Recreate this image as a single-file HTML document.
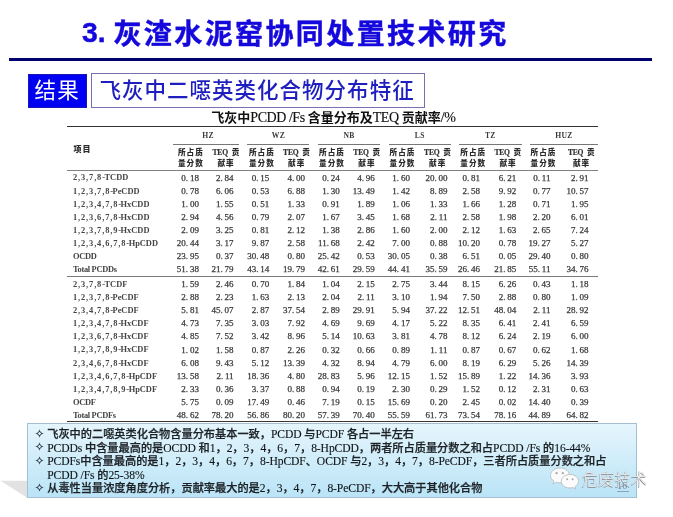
<!DOCTYPE html>
<html><head><meta charset="utf-8"><title>slide</title>
<style>
*{margin:0;padding:0;box-sizing:border-box}
html,body{width:673px;height:517px;overflow:hidden;background:#fff}
body{position:relative;font-family:"Liberation Sans","Noto Sans CJK SC",sans-serif}
.a{position:absolute;white-space:nowrap}
.t{font-family:"Liberation Serif","Noto Sans CJK SC",serif;color:#383838;-webkit-text-stroke:0.25px #383838}
.n{font-size:9px;line-height:10px;text-align:right;width:40px}
.lab{font-size:8.4px;line-height:10px;left:73px;font-weight:700;-webkit-text-stroke:0;color:#444}
.lab .dg{letter-spacing:0.88px}
.lab .hy{letter-spacing:-0.5px}
.hd{font-family:"Liberation Serif","Noto Sans CJK SC",serif;font-size:7.6px;line-height:10px;color:#333;-webkit-text-stroke:0.2px #333;text-align:center;width:40px}
.hc{font-family:"Noto Sans CJK SC",sans-serif;font-weight:700;letter-spacing:1px;-webkit-text-stroke:0}
.ln{position:absolute;background:#555}
.hb{font-weight:900;color:#2a2a2a}
.hd b{font-weight:700;letter-spacing:-0.2px}
.bx{font-family:"Liberation Serif","Noto Sans CJK SC",serif;font-size:11.6px;letter-spacing:-0.1px;line-height:16px;color:#101315;-webkit-text-stroke:0.12px #101315}
.bx .c{font-family:"Noto Sans CJK SC",sans-serif;font-weight:500;font-size:11.2px;letter-spacing:0;-webkit-text-stroke:0.25px #1d2226;color:#1d2226}
.st{display:block}
</style></head><body>

<div class="a" id="title" style="left:82px;top:14px;font-size:28px;line-height:40px;font-weight:700;color:#1508dc;-webkit-text-stroke:0.45px #1508dc;font-family:'Liberation Sans','Noto Sans CJK SC',sans-serif"><span style="font-size:28.3px;position:relative;top:-2px">3. </span><span style="letter-spacing:2.4px;position:relative;top:0px">灰渣水泥窑协同处置技术研究</span></div>
<div class="a" style="left:8.6px;top:57.5px;width:643.4px;height:3.5px;background:#00006e"></div>
<div class="a" style="left:27.5px;top:73.6px;width:59.5px;height:34.2px;background:#0000f3;border:1px solid #1818b8"></div>
<div class="a" id="jg" style="left:34.6px;top:73px;font-size:21.5px;letter-spacing:1.1px;line-height:32px;color:#fff;font-family:'Noto Sans CJK SC',sans-serif">结果</div>
<div class="a" style="left:91.3px;top:73.2px;width:333.7px;height:34.6px;border:1.2px solid #7570ae"></div>
<div class="a" id="sub" style="left:99.4px;top:73px;font-size:21.5px;letter-spacing:1.02px;font-weight:500;line-height:32px;color:#1f1fc0;font-family:'Noto Sans CJK SC',sans-serif">飞灰中二噁英类化合物分布特征</div>
<div class="a t" id="tt" style="left:211.3px;top:107.6px;font-size:14px;line-height:17px;color:#111;-webkit-text-stroke:0.15px #111;letter-spacing:-0.45px"><span class="hc" style="letter-spacing:0;font-size:13px">飞灰中</span>PCDD /Fs <span class="hc" style="letter-spacing:0;font-size:13px">含量分布及</span>TEQ <span class="hc" style="letter-spacing:0;font-size:13px">贡献率</span>/%</div>
<div class="ln" style="left:67px;top:125.6px;width:531.2px;height:1.3px;background:#333"></div>
<div class="ln" style="left:173.0px;top:143.6px;width:66.1px;height:1px;background:#777"></div>
<div class="ln" style="left:247.4px;top:143.6px;width:62.1px;height:1px;background:#777"></div>
<div class="ln" style="left:317.8px;top:143.6px;width:62.4px;height:1px;background:#777"></div>
<div class="ln" style="left:388.7px;top:143.6px;width:62.1px;height:1px;background:#777"></div>
<div class="ln" style="left:459.0px;top:143.6px;width:62.6px;height:1px;background:#777"></div>
<div class="ln" style="left:529.6px;top:143.6px;width:68.6px;height:1px;background:#777"></div>
<div class="ln" style="left:67px;top:169.9px;width:531.2px;height:1.4px;background:#808080"></div>
<div class="ln" style="left:67px;top:275.9px;width:531.2px;height:1.3px;background:#7a7a7a"></div>
<div class="ln" style="left:67px;top:420.9px;width:531.2px;height:1.45px;background:#383838"></div>
<div class="a hc" style="left:73.6px;top:143px;font-size:8px;line-height:12px;color:#2a2a2a;letter-spacing:0.9px;font-weight:900">项目</div>
<div class="a hd" style="left:188.1px;top:130.5px;font-weight:700;letter-spacing:0.3px;-webkit-text-stroke:0;color:#3a3a3a">HZ</div>
<div class="a hd" style="left:258.4px;top:130.5px;font-weight:700;letter-spacing:0.3px;-webkit-text-stroke:0;color:#3a3a3a">WZ</div>
<div class="a hd" style="left:329.0px;top:130.5px;font-weight:700;letter-spacing:0.3px;-webkit-text-stroke:0;color:#3a3a3a">NB</div>
<div class="a hd" style="left:399.8px;top:130.5px;font-weight:700;letter-spacing:0.3px;-webkit-text-stroke:0;color:#3a3a3a">LS</div>
<div class="a hd" style="left:470.3px;top:130.5px;font-weight:700;letter-spacing:0.3px;-webkit-text-stroke:0;color:#3a3a3a">TZ</div>
<div class="a hd" style="left:543.9px;top:130.5px;font-weight:700;letter-spacing:0.3px;-webkit-text-stroke:0;color:#3a3a3a">HUZ</div>
<div class="a hd hc hb" style="left:170.9px;top:146.7px">所占质</div>
<div class="a hd hc hb" style="left:170.9px;top:157.6px">量分数</div>
<div class="a hd hc hb" style="left:241.9px;top:146.7px">所占质</div>
<div class="a hd hc hb" style="left:241.9px;top:157.6px">量分数</div>
<div class="a hd hc hb" style="left:312.0px;top:146.7px">所占质</div>
<div class="a hd hc hb" style="left:312.0px;top:157.6px">量分数</div>
<div class="a hd hc hb" style="left:382.5px;top:146.7px">所占质</div>
<div class="a hd hc hb" style="left:382.5px;top:157.6px">量分数</div>
<div class="a hd hc hb" style="left:453.2px;top:146.7px">所占质</div>
<div class="a hd hc hb" style="left:453.2px;top:157.6px">量分数</div>
<div class="a hd hc hb" style="left:523.5px;top:146.7px">所占质</div>
<div class="a hd hc hb" style="left:523.5px;top:157.6px">量分数</div>
<div class="a hd" style="left:205.9px;top:146.7px"><b>TEQ</b>&#8194;<span class="hc hb" style="letter-spacing:0">贡</span></div>
<div class="a hd hc hb" style="left:206.1px;top:157.6px">献率</div>
<div class="a hd" style="left:276.5px;top:146.7px"><b>TEQ</b>&#8194;<span class="hc hb" style="letter-spacing:0">贡</span></div>
<div class="a hd hc hb" style="left:276.7px;top:157.6px">献率</div>
<div class="a hd" style="left:346.7px;top:146.7px"><b>TEQ</b>&#8194;<span class="hc hb" style="letter-spacing:0">贡</span></div>
<div class="a hd hc hb" style="left:346.9px;top:157.6px">献率</div>
<div class="a hd" style="left:417.5px;top:146.7px"><b>TEQ</b>&#8194;<span class="hc hb" style="letter-spacing:0">贡</span></div>
<div class="a hd hc hb" style="left:417.7px;top:157.6px">献率</div>
<div class="a hd" style="left:487.8px;top:146.7px"><b>TEQ</b>&#8194;<span class="hc hb" style="letter-spacing:0">贡</span></div>
<div class="a hd hc hb" style="left:488.0px;top:157.6px">献率</div>
<div class="a hd" style="left:561.3px;top:146.7px"><b>TEQ</b>&#8194;<span class="hc hb" style="letter-spacing:0">贡</span></div>
<div class="a hd hc hb" style="left:561.5px;top:157.6px">献率</div>
<div class="a t lab" style="top:173.40px"><span class="dg">2,3,7,8</span><span class="hy">-</span>TCDD</div>
<div class="a t n" style="left:158.9px;top:172.50px">0.&#8201;18</div>
<div class="a t n" style="left:193.6px;top:172.50px">2.&#8201;84</div>
<div class="a t n" style="left:229.3px;top:172.50px">0.&#8201;15</div>
<div class="a t n" style="left:265.0px;top:172.50px">4.&#8201;00</div>
<div class="a t n" style="left:299.7px;top:172.50px">0.&#8201;24</div>
<div class="a t n" style="left:334.7px;top:172.50px">4.&#8201;96</div>
<div class="a t n" style="left:369.9px;top:172.50px">1.&#8201;60</div>
<div class="a t n" style="left:407.5px;top:172.50px">20.&#8201;00</div>
<div class="a t n" style="left:440.0px;top:172.50px">0.&#8201;81</div>
<div class="a t n" style="left:476.2px;top:172.50px">6.&#8201;21</div>
<div class="a t n" style="left:510.5px;top:172.50px">0.&#8201;11</div>
<div class="a t n" style="left:548.6px;top:172.50px">2.&#8201;91</div>
<div class="a t lab" style="top:186.53px"><span class="dg">1,2,3,7,8</span><span class="hy">-</span>PeCDD</div>
<div class="a t n" style="left:158.9px;top:185.63px">0.&#8201;78</div>
<div class="a t n" style="left:193.6px;top:185.63px">6.&#8201;06</div>
<div class="a t n" style="left:229.3px;top:185.63px">0.&#8201;53</div>
<div class="a t n" style="left:265.0px;top:185.63px">6.&#8201;88</div>
<div class="a t n" style="left:299.7px;top:185.63px">1.&#8201;30</div>
<div class="a t n" style="left:334.7px;top:185.63px">13.&#8201;49</div>
<div class="a t n" style="left:369.9px;top:185.63px">1.&#8201;42</div>
<div class="a t n" style="left:407.5px;top:185.63px">8.&#8201;89</div>
<div class="a t n" style="left:440.0px;top:185.63px">2.&#8201;58</div>
<div class="a t n" style="left:476.2px;top:185.63px">9.&#8201;92</div>
<div class="a t n" style="left:510.5px;top:185.63px">0.&#8201;77</div>
<div class="a t n" style="left:548.6px;top:185.63px">10.&#8201;57</div>
<div class="a t lab" style="top:199.66px"><span class="dg">1,2,3,4,7,8</span><span class="hy">-</span>HxCDD</div>
<div class="a t n" style="left:158.9px;top:198.76px">1.&#8201;00</div>
<div class="a t n" style="left:193.6px;top:198.76px">1.&#8201;55</div>
<div class="a t n" style="left:229.3px;top:198.76px">0.&#8201;51</div>
<div class="a t n" style="left:265.0px;top:198.76px">1.&#8201;33</div>
<div class="a t n" style="left:299.7px;top:198.76px">0.&#8201;91</div>
<div class="a t n" style="left:334.7px;top:198.76px">1.&#8201;89</div>
<div class="a t n" style="left:369.9px;top:198.76px">1.&#8201;06</div>
<div class="a t n" style="left:407.5px;top:198.76px">1.&#8201;33</div>
<div class="a t n" style="left:440.0px;top:198.76px">1.&#8201;66</div>
<div class="a t n" style="left:476.2px;top:198.76px">1.&#8201;28</div>
<div class="a t n" style="left:510.5px;top:198.76px">0.&#8201;71</div>
<div class="a t n" style="left:548.6px;top:198.76px">1.&#8201;95</div>
<div class="a t lab" style="top:212.79px"><span class="dg">1,2,3,6,7,8</span><span class="hy">-</span>HxCDD</div>
<div class="a t n" style="left:158.9px;top:211.89px">2.&#8201;94</div>
<div class="a t n" style="left:193.6px;top:211.89px">4.&#8201;56</div>
<div class="a t n" style="left:229.3px;top:211.89px">0.&#8201;79</div>
<div class="a t n" style="left:265.0px;top:211.89px">2.&#8201;07</div>
<div class="a t n" style="left:299.7px;top:211.89px">1.&#8201;67</div>
<div class="a t n" style="left:334.7px;top:211.89px">3.&#8201;45</div>
<div class="a t n" style="left:369.9px;top:211.89px">1.&#8201;68</div>
<div class="a t n" style="left:407.5px;top:211.89px">2.&#8201;11</div>
<div class="a t n" style="left:440.0px;top:211.89px">2.&#8201;58</div>
<div class="a t n" style="left:476.2px;top:211.89px">1.&#8201;98</div>
<div class="a t n" style="left:510.5px;top:211.89px">2.&#8201;20</div>
<div class="a t n" style="left:548.6px;top:211.89px">6.&#8201;01</div>
<div class="a t lab" style="top:225.92px"><span class="dg">1,2,3,7,8,9</span><span class="hy">-</span>HxCDD</div>
<div class="a t n" style="left:158.9px;top:225.02px">2.&#8201;09</div>
<div class="a t n" style="left:193.6px;top:225.02px">3.&#8201;25</div>
<div class="a t n" style="left:229.3px;top:225.02px">0.&#8201;81</div>
<div class="a t n" style="left:265.0px;top:225.02px">2.&#8201;12</div>
<div class="a t n" style="left:299.7px;top:225.02px">1.&#8201;38</div>
<div class="a t n" style="left:334.7px;top:225.02px">2.&#8201;86</div>
<div class="a t n" style="left:369.9px;top:225.02px">1.&#8201;60</div>
<div class="a t n" style="left:407.5px;top:225.02px">2.&#8201;00</div>
<div class="a t n" style="left:440.0px;top:225.02px">2.&#8201;12</div>
<div class="a t n" style="left:476.2px;top:225.02px">1.&#8201;63</div>
<div class="a t n" style="left:510.5px;top:225.02px">2.&#8201;65</div>
<div class="a t n" style="left:548.6px;top:225.02px">7.&#8201;24</div>
<div class="a t lab" style="top:239.05px"><span class="dg">1,2,3,4,6,7,8</span><span class="hy">-</span>HpCDD</div>
<div class="a t n" style="left:158.9px;top:238.15px">20.&#8201;44</div>
<div class="a t n" style="left:193.6px;top:238.15px">3.&#8201;17</div>
<div class="a t n" style="left:229.3px;top:238.15px">9.&#8201;87</div>
<div class="a t n" style="left:265.0px;top:238.15px">2.&#8201;58</div>
<div class="a t n" style="left:299.7px;top:238.15px">11.&#8201;68</div>
<div class="a t n" style="left:334.7px;top:238.15px">2.&#8201;42</div>
<div class="a t n" style="left:369.9px;top:238.15px">7.&#8201;00</div>
<div class="a t n" style="left:407.5px;top:238.15px">0.&#8201;88</div>
<div class="a t n" style="left:440.0px;top:238.15px">10.&#8201;20</div>
<div class="a t n" style="left:476.2px;top:238.15px">0.&#8201;78</div>
<div class="a t n" style="left:510.5px;top:238.15px">19.&#8201;27</div>
<div class="a t n" style="left:548.6px;top:238.15px">5.&#8201;27</div>
<div class="a t lab" style="top:252.18px"><span style="letter-spacing:-0.3px">OCDD</span></div>
<div class="a t n" style="left:158.9px;top:251.28px">23.&#8201;95</div>
<div class="a t n" style="left:193.6px;top:251.28px">0.&#8201;37</div>
<div class="a t n" style="left:229.3px;top:251.28px">30.&#8201;48</div>
<div class="a t n" style="left:265.0px;top:251.28px">0.&#8201;80</div>
<div class="a t n" style="left:299.7px;top:251.28px">25.&#8201;42</div>
<div class="a t n" style="left:334.7px;top:251.28px">0.&#8201;53</div>
<div class="a t n" style="left:369.9px;top:251.28px">30.&#8201;05</div>
<div class="a t n" style="left:407.5px;top:251.28px">0.&#8201;38</div>
<div class="a t n" style="left:440.0px;top:251.28px">6.&#8201;51</div>
<div class="a t n" style="left:476.2px;top:251.28px">0.&#8201;05</div>
<div class="a t n" style="left:510.5px;top:251.28px">29.&#8201;40</div>
<div class="a t n" style="left:548.6px;top:251.28px">0.&#8201;80</div>
<div class="a t lab" style="top:265.31px"><span style="letter-spacing:-0.3px">Total PCDDs</span></div>
<div class="a t n" style="left:158.9px;top:264.41px">51.&#8201;38</div>
<div class="a t n" style="left:193.6px;top:264.41px">21.&#8201;79</div>
<div class="a t n" style="left:229.3px;top:264.41px">43.&#8201;14</div>
<div class="a t n" style="left:265.0px;top:264.41px">19.&#8201;79</div>
<div class="a t n" style="left:299.7px;top:264.41px">42.&#8201;61</div>
<div class="a t n" style="left:334.7px;top:264.41px">29.&#8201;59</div>
<div class="a t n" style="left:369.9px;top:264.41px">44.&#8201;41</div>
<div class="a t n" style="left:407.5px;top:264.41px">35.&#8201;59</div>
<div class="a t n" style="left:440.0px;top:264.41px">26.&#8201;46</div>
<div class="a t n" style="left:476.2px;top:264.41px">21.&#8201;85</div>
<div class="a t n" style="left:510.5px;top:264.41px">55.&#8201;11</div>
<div class="a t n" style="left:548.6px;top:264.41px">34.&#8201;76</div>
<div class="a t lab" style="top:279.80px"><span class="dg">2,3,7,8</span><span class="hy">-</span>TCDF</div>
<div class="a t n" style="left:158.9px;top:278.90px">1.&#8201;59</div>
<div class="a t n" style="left:193.6px;top:278.90px">2.&#8201;46</div>
<div class="a t n" style="left:229.3px;top:278.90px">0.&#8201;70</div>
<div class="a t n" style="left:265.0px;top:278.90px">1.&#8201;84</div>
<div class="a t n" style="left:299.7px;top:278.90px">1.&#8201;04</div>
<div class="a t n" style="left:334.7px;top:278.90px">2.&#8201;15</div>
<div class="a t n" style="left:369.9px;top:278.90px">2.&#8201;75</div>
<div class="a t n" style="left:407.5px;top:278.90px">3.&#8201;44</div>
<div class="a t n" style="left:440.0px;top:278.90px">8.&#8201;15</div>
<div class="a t n" style="left:476.2px;top:278.90px">6.&#8201;26</div>
<div class="a t n" style="left:510.5px;top:278.90px">0.&#8201;43</div>
<div class="a t n" style="left:548.6px;top:278.90px">1.&#8201;18</div>
<div class="a t lab" style="top:292.93px"><span class="dg">1,2,3,7,8</span><span class="hy">-</span>PeCDF</div>
<div class="a t n" style="left:158.9px;top:292.03px">2.&#8201;88</div>
<div class="a t n" style="left:193.6px;top:292.03px">2.&#8201;23</div>
<div class="a t n" style="left:229.3px;top:292.03px">1.&#8201;63</div>
<div class="a t n" style="left:265.0px;top:292.03px">2.&#8201;13</div>
<div class="a t n" style="left:299.7px;top:292.03px">2.&#8201;04</div>
<div class="a t n" style="left:334.7px;top:292.03px">2.&#8201;11</div>
<div class="a t n" style="left:369.9px;top:292.03px">3.&#8201;10</div>
<div class="a t n" style="left:407.5px;top:292.03px">1.&#8201;94</div>
<div class="a t n" style="left:440.0px;top:292.03px">7.&#8201;50</div>
<div class="a t n" style="left:476.2px;top:292.03px">2.&#8201;88</div>
<div class="a t n" style="left:510.5px;top:292.03px">0.&#8201;80</div>
<div class="a t n" style="left:548.6px;top:292.03px">1.&#8201;09</div>
<div class="a t lab" style="top:306.06px"><span class="dg">2,3,4,7,8</span><span class="hy">-</span>PeCDF</div>
<div class="a t n" style="left:158.9px;top:305.16px">5.&#8201;81</div>
<div class="a t n" style="left:193.6px;top:305.16px">45.&#8201;07</div>
<div class="a t n" style="left:229.3px;top:305.16px">2.&#8201;87</div>
<div class="a t n" style="left:265.0px;top:305.16px">37.&#8201;54</div>
<div class="a t n" style="left:299.7px;top:305.16px">2.&#8201;89</div>
<div class="a t n" style="left:334.7px;top:305.16px">29.&#8201;91</div>
<div class="a t n" style="left:369.9px;top:305.16px">5.&#8201;94</div>
<div class="a t n" style="left:407.5px;top:305.16px">37.&#8201;22</div>
<div class="a t n" style="left:440.0px;top:305.16px">12.&#8201;51</div>
<div class="a t n" style="left:476.2px;top:305.16px">48.&#8201;04</div>
<div class="a t n" style="left:510.5px;top:305.16px">2.&#8201;11</div>
<div class="a t n" style="left:548.6px;top:305.16px">28.&#8201;92</div>
<div class="a t lab" style="top:319.19px"><span class="dg">1,2,3,4,7,8</span><span class="hy">-</span>HxCDF</div>
<div class="a t n" style="left:158.9px;top:318.29px">4.&#8201;73</div>
<div class="a t n" style="left:193.6px;top:318.29px">7.&#8201;35</div>
<div class="a t n" style="left:229.3px;top:318.29px">3.&#8201;03</div>
<div class="a t n" style="left:265.0px;top:318.29px">7.&#8201;92</div>
<div class="a t n" style="left:299.7px;top:318.29px">4.&#8201;69</div>
<div class="a t n" style="left:334.7px;top:318.29px">9.&#8201;69</div>
<div class="a t n" style="left:369.9px;top:318.29px">4.&#8201;17</div>
<div class="a t n" style="left:407.5px;top:318.29px">5.&#8201;22</div>
<div class="a t n" style="left:440.0px;top:318.29px">8.&#8201;35</div>
<div class="a t n" style="left:476.2px;top:318.29px">6.&#8201;41</div>
<div class="a t n" style="left:510.5px;top:318.29px">2.&#8201;41</div>
<div class="a t n" style="left:548.6px;top:318.29px">6.&#8201;59</div>
<div class="a t lab" style="top:332.32px"><span class="dg">1,2,3,6,7,8</span><span class="hy">-</span>HxCDF</div>
<div class="a t n" style="left:158.9px;top:331.42px">4.&#8201;85</div>
<div class="a t n" style="left:193.6px;top:331.42px">7.&#8201;52</div>
<div class="a t n" style="left:229.3px;top:331.42px">3.&#8201;42</div>
<div class="a t n" style="left:265.0px;top:331.42px">8.&#8201;96</div>
<div class="a t n" style="left:299.7px;top:331.42px">5.&#8201;14</div>
<div class="a t n" style="left:334.7px;top:331.42px">10.&#8201;63</div>
<div class="a t n" style="left:369.9px;top:331.42px">3.&#8201;81</div>
<div class="a t n" style="left:407.5px;top:331.42px">4.&#8201;78</div>
<div class="a t n" style="left:440.0px;top:331.42px">8.&#8201;12</div>
<div class="a t n" style="left:476.2px;top:331.42px">6.&#8201;24</div>
<div class="a t n" style="left:510.5px;top:331.42px">2.&#8201;19</div>
<div class="a t n" style="left:548.6px;top:331.42px">6.&#8201;00</div>
<div class="a t lab" style="top:345.45px"><span class="dg">1,2,3,7,8,9</span><span class="hy">-</span>HxCDF</div>
<div class="a t n" style="left:158.9px;top:344.55px">1.&#8201;02</div>
<div class="a t n" style="left:193.6px;top:344.55px">1.&#8201;58</div>
<div class="a t n" style="left:229.3px;top:344.55px">0.&#8201;87</div>
<div class="a t n" style="left:265.0px;top:344.55px">2.&#8201;26</div>
<div class="a t n" style="left:299.7px;top:344.55px">0.&#8201;32</div>
<div class="a t n" style="left:334.7px;top:344.55px">0.&#8201;66</div>
<div class="a t n" style="left:369.9px;top:344.55px">0.&#8201;89</div>
<div class="a t n" style="left:407.5px;top:344.55px">1.&#8201;11</div>
<div class="a t n" style="left:440.0px;top:344.55px">0.&#8201;87</div>
<div class="a t n" style="left:476.2px;top:344.55px">0.&#8201;67</div>
<div class="a t n" style="left:510.5px;top:344.55px">0.&#8201;62</div>
<div class="a t n" style="left:548.6px;top:344.55px">1.&#8201;68</div>
<div class="a t lab" style="top:358.58px"><span class="dg">2,3,4,6,7,8</span><span class="hy">-</span>HxCDF</div>
<div class="a t n" style="left:158.9px;top:357.68px">6.&#8201;08</div>
<div class="a t n" style="left:193.6px;top:357.68px">9.&#8201;43</div>
<div class="a t n" style="left:229.3px;top:357.68px">5.&#8201;12</div>
<div class="a t n" style="left:265.0px;top:357.68px">13.&#8201;39</div>
<div class="a t n" style="left:299.7px;top:357.68px">4.&#8201;32</div>
<div class="a t n" style="left:334.7px;top:357.68px">8.&#8201;94</div>
<div class="a t n" style="left:369.9px;top:357.68px">4.&#8201;79</div>
<div class="a t n" style="left:407.5px;top:357.68px">6.&#8201;00</div>
<div class="a t n" style="left:440.0px;top:357.68px">8.&#8201;19</div>
<div class="a t n" style="left:476.2px;top:357.68px">6.&#8201;29</div>
<div class="a t n" style="left:510.5px;top:357.68px">5.&#8201;26</div>
<div class="a t n" style="left:548.6px;top:357.68px">14.&#8201;39</div>
<div class="a t lab" style="top:371.71px"><span class="dg">1,2,3,4,6,7,8</span><span class="hy">-</span>HpCDF</div>
<div class="a t n" style="left:158.9px;top:370.81px">13.&#8201;58</div>
<div class="a t n" style="left:193.6px;top:370.81px">2.&#8201;11</div>
<div class="a t n" style="left:229.3px;top:370.81px">18.&#8201;36</div>
<div class="a t n" style="left:265.0px;top:370.81px">4.&#8201;80</div>
<div class="a t n" style="left:299.7px;top:370.81px">28.&#8201;83</div>
<div class="a t n" style="left:334.7px;top:370.81px">5.&#8201;96</div>
<div class="a t n" style="left:369.9px;top:370.81px">12.&#8201;15</div>
<div class="a t n" style="left:407.5px;top:370.81px">1.&#8201;52</div>
<div class="a t n" style="left:440.0px;top:370.81px">15.&#8201;89</div>
<div class="a t n" style="left:476.2px;top:370.81px">1.&#8201;22</div>
<div class="a t n" style="left:510.5px;top:370.81px">14.&#8201;36</div>
<div class="a t n" style="left:548.6px;top:370.81px">3.&#8201;93</div>
<div class="a t lab" style="top:384.84px"><span class="dg">1,2,3,4,7,8,9</span><span class="hy">-</span>HpCDF</div>
<div class="a t n" style="left:158.9px;top:383.94px">2.&#8201;33</div>
<div class="a t n" style="left:193.6px;top:383.94px">0.&#8201;36</div>
<div class="a t n" style="left:229.3px;top:383.94px">3.&#8201;37</div>
<div class="a t n" style="left:265.0px;top:383.94px">0.&#8201;88</div>
<div class="a t n" style="left:299.7px;top:383.94px">0.&#8201;94</div>
<div class="a t n" style="left:334.7px;top:383.94px">0.&#8201;19</div>
<div class="a t n" style="left:369.9px;top:383.94px">2.&#8201;30</div>
<div class="a t n" style="left:407.5px;top:383.94px">0.&#8201;29</div>
<div class="a t n" style="left:440.0px;top:383.94px">1.&#8201;52</div>
<div class="a t n" style="left:476.2px;top:383.94px">0.&#8201;12</div>
<div class="a t n" style="left:510.5px;top:383.94px">2.&#8201;31</div>
<div class="a t n" style="left:548.6px;top:383.94px">0.&#8201;63</div>
<div class="a t lab" style="top:397.97px"><span style="letter-spacing:-0.3px">OCDF</span></div>
<div class="a t n" style="left:158.9px;top:397.07px">5.&#8201;75</div>
<div class="a t n" style="left:193.6px;top:397.07px">0.&#8201;09</div>
<div class="a t n" style="left:229.3px;top:397.07px">17.&#8201;49</div>
<div class="a t n" style="left:265.0px;top:397.07px">0.&#8201;46</div>
<div class="a t n" style="left:299.7px;top:397.07px">7.&#8201;19</div>
<div class="a t n" style="left:334.7px;top:397.07px">0.&#8201;15</div>
<div class="a t n" style="left:369.9px;top:397.07px">15.&#8201;69</div>
<div class="a t n" style="left:407.5px;top:397.07px">0.&#8201;20</div>
<div class="a t n" style="left:440.0px;top:397.07px">2.&#8201;45</div>
<div class="a t n" style="left:476.2px;top:397.07px">0.&#8201;02</div>
<div class="a t n" style="left:510.5px;top:397.07px">14.&#8201;40</div>
<div class="a t n" style="left:548.6px;top:397.07px">0.&#8201;39</div>
<div class="a t lab" style="top:411.10px"><span style="letter-spacing:-0.3px">Total PCDFs</span></div>
<div class="a t n" style="left:158.9px;top:410.20px">48.&#8201;62</div>
<div class="a t n" style="left:193.6px;top:410.20px">78.&#8201;20</div>
<div class="a t n" style="left:229.3px;top:410.20px">56.&#8201;86</div>
<div class="a t n" style="left:265.0px;top:410.20px">80.&#8201;20</div>
<div class="a t n" style="left:299.7px;top:410.20px">57.&#8201;39</div>
<div class="a t n" style="left:334.7px;top:410.20px">70.&#8201;40</div>
<div class="a t n" style="left:369.9px;top:410.20px">55.&#8201;59</div>
<div class="a t n" style="left:407.5px;top:410.20px">61.&#8201;73</div>
<div class="a t n" style="left:440.0px;top:410.20px">73.&#8201;54</div>
<div class="a t n" style="left:476.2px;top:410.20px">78.&#8201;16</div>
<div class="a t n" style="left:510.5px;top:410.20px">44.&#8201;89</div>
<div class="a t n" style="left:548.6px;top:410.20px">64.&#8201;82</div>
<svg class="a" style="left:0;top:480px" width="28" height="19"><polygon points="0.5,0.8 27.5,0.8 27.5,18" fill="#e2e2e2"/></svg>
<div class="a" style="left:27.2px;top:422.8px;width:609.5px;height:75.3px;border:1px solid #a6bfd0;background:linear-gradient(#e5f5fc,#bae4f7)"></div>
<div class="a" style="left:34.6px;top:428.90px;line-height:9px"><svg class="st" width="9" height="9" viewBox="0 0 9 9"><path fill-rule="evenodd" fill="#2c3a44" d="M4.5,0.2 Q5.0,3.6 8.8,4.5 Q5.0,5.4 4.5,8.8 Q4.0,5.4 0.2,4.5 Q4.0,3.6 4.5,0.2 Z M4.5,2.75 L6.25,4.5 L4.5,6.25 L2.75,4.5 Z"/></svg></div>
<div class="a bx" style="left:47.2px;top:425.00px"><span class="c">飞灰中的二噁英类化合物含量分布基本一致，</span>PCDD <span class="c">与</span>PCDF <span class="c">各占一半左右</span></div>
<div class="a" style="left:34.6px;top:442.45px;line-height:9px"><svg class="st" width="9" height="9" viewBox="0 0 9 9"><path fill-rule="evenodd" fill="#2c3a44" d="M4.5,0.2 Q5.0,3.6 8.8,4.5 Q5.0,5.4 4.5,8.8 Q4.0,5.4 0.2,4.5 Q4.0,3.6 4.5,0.2 Z M4.5,2.75 L6.25,4.5 L4.5,6.25 L2.75,4.5 Z"/></svg></div>
<div class="a bx" style="left:47.2px;top:438.55px">PCDDs <span class="c">中含量最高的是</span>OCDD <span class="c">和</span>1<span class="c">，</span>2<span class="c">，</span>3<span class="c">，</span>4<span class="c">，</span>6<span class="c">，</span>7<span class="c">，</span>8-HpCDD<span class="c">，两者所占质量分数之和占</span>PCDD /Fs <span class="c">的</span>16-44%</div>
<div class="a" style="left:34.6px;top:456.00px;line-height:9px"><svg class="st" width="9" height="9" viewBox="0 0 9 9"><path fill-rule="evenodd" fill="#2c3a44" d="M4.5,0.2 Q5.0,3.6 8.8,4.5 Q5.0,5.4 4.5,8.8 Q4.0,5.4 0.2,4.5 Q4.0,3.6 4.5,0.2 Z M4.5,2.75 L6.25,4.5 L4.5,6.25 L2.75,4.5 Z"/></svg></div>
<div class="a bx" style="left:47.2px;top:452.10px">PCDFs<span class="c">中含量最高的是</span>1<span class="c">，</span>2<span class="c">，</span>3<span class="c">，</span>4<span class="c">，</span>6<span class="c">，</span>7<span class="c">，</span>8-HpCDF<span class="c">、</span>OCDF <span class="c">与</span>2<span class="c">，</span>3<span class="c">，</span>4<span class="c">，</span>7<span class="c">，</span>8-PeCDF<span class="c">，三者所占质量分数之和占</span></div>
<div class="a bx" style="left:47.2px;top:465.65px">PCDD /Fs <span class="c">的</span>25-38%</div>
<div class="a" style="left:34.6px;top:483.10px;line-height:9px"><svg class="st" width="9" height="9" viewBox="0 0 9 9"><path fill-rule="evenodd" fill="#2c3a44" d="M4.5,0.2 Q5.0,3.6 8.8,4.5 Q5.0,5.4 4.5,8.8 Q4.0,5.4 0.2,4.5 Q4.0,3.6 4.5,0.2 Z M4.5,2.75 L6.25,4.5 L4.5,6.25 L2.75,4.5 Z"/></svg></div>
<div class="a bx" style="left:47.2px;top:479.20px"><span class="c">从毒性当量浓度角度分析，贡献率最大的是</span>2<span class="c">，</span>3<span class="c">，</span>4<span class="c">，</span>7<span class="c">，</span>8-PeCDF<span class="c">，大大高于其他化合物</span></div>
<svg class="a" style="left:548px;top:465px" width="34" height="27" viewBox="0 0 34 27">
<g fill="#fbfbfb" stroke="#b4b8bc" stroke-width="0.8">
<path d="M12,3 C6,3 2.5,6.8 2.5,10.5 C2.5,13 3.8,14.8 6,16.2 L5,19 L8.6,17.3 C9.8,17.7 11,17.9 12,17.9 C18,17.9 21.5,14.3 21.5,10.5 C21.5,6.8 18,3 12,3 Z"/>
<path d="M22,9.5 C16.8,9.5 13.3,12.6 13.3,16.3 C13.3,20 16.8,23 22,23 C23,23 24,22.8 24.9,22.5 L28,24 L27.2,21.4 C29.2,20 30.6,18.3 30.6,16.3 C30.6,12.6 27.2,9.5 22,9.5 Z"/>
</g>
<g fill="#a5a5a5"><circle cx="8.6" cy="8.2" r="1.1"/><circle cx="14.8" cy="8.2" r="1.1"/><circle cx="19.2" cy="14.3" r="0.95"/><circle cx="24.6" cy="14.3" r="0.95"/></g>
</svg>
<div class="a" id="wm" style="left:582px;top:466.3px;font-size:16.3px;line-height:24px;color:#eef0f2;font-family:'Noto Sans CJK SC',sans-serif;font-weight:300;text-shadow:-0.5px 0.5px 0.4px #80848a,0 0 0.7px #a0a4a8">危废技术</div>
<div class="a" style="left:617.2px;top:481.2px;font-size:9.6px;line-height:10px;color:#7489a2;font-family:'Liberation Serif',serif;letter-spacing:0.3px">16</div>
<div class="a" style="left:616.5px;top:490.9px;width:12.5px;height:0.9px;background:#8fa3b8"></div>
</body></html>
